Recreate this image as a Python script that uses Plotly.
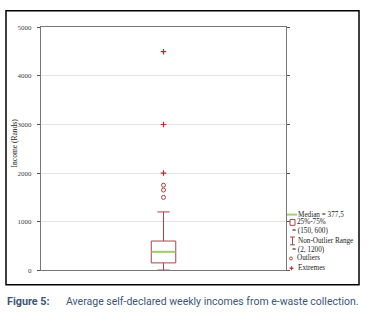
import plotly.graph_objects as go

# ---- data ----
q1 = 150
median = 377.5
q3 = 600
lower_fence = 2
upper_fence = 1200
outliers = [1500, 1650, 1750]
extremes = [2000, 3000, 4500]
y_ticks = [0, 1000, 2000, 3000, 4000, 5000]

W, H = 371, 320
def px(x):
    return x / W
def py(y):
    return (H - y) / H

BOX_COL = "#a84646"
SERIF = "Liberation Serif, Times New Roman, serif"
NARROW = "Roboto, Liberation Sans Narrow, sans-serif"

fig = go.Figure()
fig.add_trace(go.Box(
    x=[0], q1=[q1], median=[median], q3=[q3],
    lowerfence=[lower_fence], upperfence=[upper_fence],
    width=0.2, whiskerwidth=0.5, fillcolor="white",
    line=dict(color=BOX_COL, width=1), boxpoints=False,
    showlegend=False, hoverinfo="skip",
))
# median in green
fig.add_trace(go.Scatter(
    x=[-0.098, 0.098], y=[median, median], mode="lines",
    line=dict(color="#9fd36a", width=2), showlegend=False, hoverinfo="skip",
))
fig.add_trace(go.Scatter(
    x=[0] * len(outliers), y=outliers, mode="markers",
    marker=dict(symbol="circle-open", size=4, color="#b04040", line=dict(width=1)),
    showlegend=False,
))
fig.add_trace(go.Scatter(
    x=[0] * len(extremes), y=extremes, mode="markers",
    marker=dict(symbol="cross-thin-open", size=4, color="#c02828", line=dict(width=1.2)),
    showlegend=False,
))

shapes = []
annotations = []
# outer frame
shapes.append(dict(type="rect", xref="paper", yref="paper",
                   x0=px(6), x1=px(359), y0=py(288), y1=py(7),
                   line=dict(color="black", width=1.5)))

# legend
fs = 7.2
def leg_text(txt, y, x=296):
    annotations.append(dict(text=txt, xref="paper", yref="paper", x=px(x), y=py(y),
                            xanchor="left", yanchor="middle", showarrow=False,
                            font=dict(family=SERIF, size=fs, color="#222")))

shapes.append(dict(type="line", xref="paper", yref="paper", x0=px(287), x1=px(297),
                   y0=py(216), y1=py(216), line=dict(color="#9fd36a", width=2)))
leg_text(f"Median = {str(median).replace('.', ',')}", 216)
shapes.append(dict(type="rect", xref="paper", yref="paper", x0=px(290), x1=px(295),
                   y0=py(227), y1=py(221), line=dict(color=BOX_COL, width=1)))
leg_text("25%-75%", 224, 295)
leg_text(f"= ({q1}, {q3})", 233, 290)
# I-beam
shapes.append(dict(type="line", xref="paper", yref="paper", x0=px(292.5), x1=px(292.5),
                   y0=py(247), y1=py(239), line=dict(color=BOX_COL, width=1)))
shapes.append(dict(type="line", xref="paper", yref="paper", x0=px(290), x1=px(295),
                   y0=py(239), y1=py(239), line=dict(color=BOX_COL, width=1)))
shapes.append(dict(type="line", xref="paper", yref="paper", x0=px(290), x1=px(295),
                   y0=py(247), y1=py(247), line=dict(color=BOX_COL, width=1)))
leg_text("Non-Outlier Range", 243)
leg_text(f"= ({lower_fence}, {upper_fence})", 252, 290)
shapes.append(dict(type="circle", xref="paper", yref="paper", x0=px(289.5), x1=px(292.5),
                   y0=py(262.5), y1=py(259.5), line=dict(color="#b04040", width=1)))
leg_text("Outliers", 261, 295)
shapes.append(dict(type="line", xref="paper", yref="paper", x0=px(289.5), x1=px(293.5),
                   y0=py(271), y1=py(271), line=dict(color="#c02828", width=1.2)))
shapes.append(dict(type="line", xref="paper", yref="paper", x0=px(291.5), x1=px(291.5),
                   y0=py(273), y1=py(269), line=dict(color="#c02828", width=1.2)))
leg_text("Extremes", 271)

# y axis title
annotations.append(dict(text="Income (Rands)", xref="paper", yref="paper",
                        x=px(14), y=py(143), textangle=-90, showarrow=False,
                        xanchor="center", yanchor="middle",
                        font=dict(family=SERIF, size=7.5, color="#222")))
# caption
annotations.append(dict(text="<b>Figure 5:</b>", xref="paper", yref="paper",
                        x=px(5), y=py(305), xanchor="left", yanchor="middle", showarrow=False,
                        font=dict(family=NARROW, size=10.8, color="#3c5678")))
annotations.append(dict(text="Average self-declared weekly incomes from e-waste collection.",
                        xref="paper", yref="paper",
                        x=px(64), y=py(305), xanchor="left", yanchor="middle", showarrow=False,
                        font=dict(family=NARROW, size=10.5, color="#3c5678")))

fig.update_layout(
    width=W, height=H, margin=dict(l=0, r=0, t=0, b=0),
    paper_bgcolor="white", plot_bgcolor="white",
    shapes=shapes, annotations=annotations, showlegend=False,
    xaxis=dict(domain=[px(41), px(286)], range=[-1, 1], showticklabels=False,
               ticks="", showgrid=False, zeroline=False,
               showline=True, linecolor="#777", linewidth=1, mirror=True, fixedrange=True),
    yaxis=dict(domain=[py(273), py(24)], range=[0, 5000], tickvals=y_ticks,
               ticks="outside", ticklen=3, tickcolor="#555", mirror="ticks",
               showline=True, linecolor="#777", linewidth=1,
               showgrid=True, gridcolor="#e4e4e4", gridwidth=1, zeroline=False,
               ticklabelstandoff=4,
               tickfont=dict(family=SERIF, size=7, color="#444"), fixedrange=True),
)

fig.write_html("out.html", config={"displayModeBar": False},
               post_script="document.body.style.margin='0';")
